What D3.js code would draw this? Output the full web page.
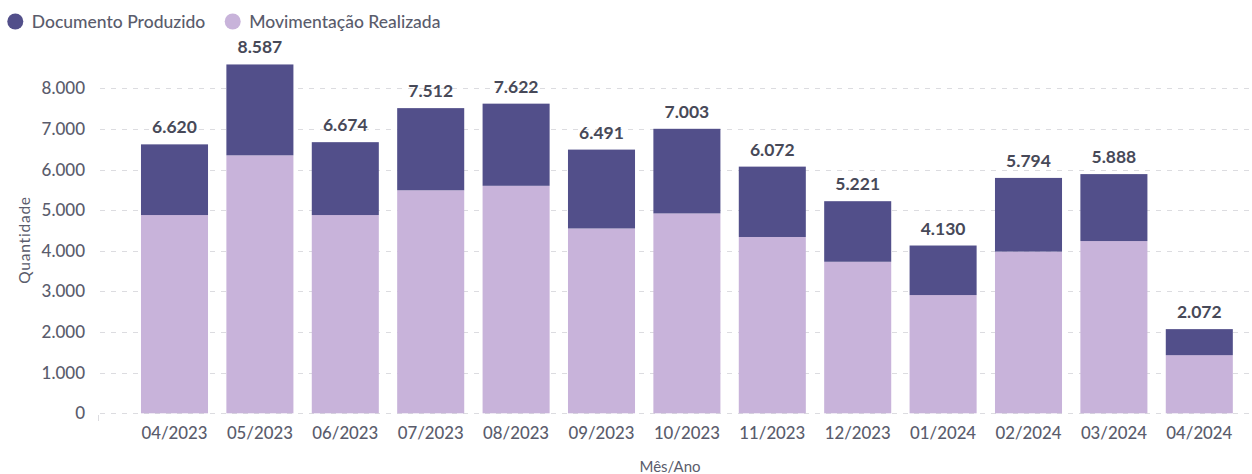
<!DOCTYPE html>
<html>
<head>
<meta charset="utf-8">
<script src="https://cdn.jsdelivr.net/npm/d3@7"></script>
<style>
  body { margin: 0; background: #fff; font-family: Lato, "Open Sans", sans-serif; }
</style>
</head>
<body>
<div id="chart"></div>
<script>
// data
var months = ["04/2023","05/2023","06/2023","07/2023","08/2023","09/2023","10/2023",
              "11/2023","12/2023","01/2024","02/2024","03/2024","04/2024"];
var totals = [6620, 8587, 6674, 7512, 7622, 6491, 7003, 6072, 5221, 4130, 5794, 5888, 2072];
var movimentacao = [4880, 6350, 4880, 5490, 5600, 4550, 4920, 4340, 3730, 2910, 3980, 4240, 1430];
var documento = totals.map(function(t, i) { return t - movimentacao[i]; });
var yTicks = [0, 1000, 2000, 3000, 4000, 5000, 6000, 7000, 8000];
var seriesNames = ["Documento Produzido", "Movimentação Realizada"];
var seriesColors = ["#524f8a", "#c8b3da"];

var W = 1252, H = 474;
var textColor = "#5a5c6c";
var fmt = function(v) { return d3.format(",")(v).replace(/,/g, "."); };

var svg = d3.select("#chart").append("svg")
    .attr("width", W).attr("height", H);

var x = d3.scaleBand()
    .domain(months)
    .range([131.8, 1242])
    .paddingInner(0.215)
    .paddingOuter(0.1075);

var y = d3.scaleLinear()
    .domain([0, 8000])
    .range([413.3, 88.3]);

// gridlines
svg.append("g")
  .selectAll("line")
  .data(yTicks)
  .join("line")
    .attr("x1", 100).attr("x2", 1250)
    .attr("y1", function(d) { return Math.round(y(d)) + 0.5; })
    .attr("y2", function(d) { return Math.round(y(d)) + 0.5; })
    .attr("stroke", "#dcdce0")
    .attr("stroke-dasharray", "5,6");

// small tick at the start of the axis
svg.append("line")
    .attr("x1", 98.5).attr("x2", 98.5)
    .attr("y1", 415).attr("y2", 421)
    .attr("stroke", "#dcdce0");

// y tick labels
svg.append("g")
  .selectAll("text")
  .data(yTicks)
  .join("text")
    .attr("x", 85)
    .attr("y", function(d) { return y(d); })
    .attr("dy", "0.35em")
    .attr("text-anchor", "end")
    .attr("fill", textColor)
    .style("font-size", "17px")
    .style("font-weight", "500")
    .text(function(d) { return fmt(d); });

// stacked bars
var rows = months.map(function(m, i) {
  return { mes: m, mov: movimentacao[i], doc: documento[i] };
});
var stack = d3.stack().keys(["mov", "doc"])(rows);
var colorFor = { mov: seriesColors[1], doc: seriesColors[0] };

svg.append("g")
  .selectAll("g")
  .data(stack)
  .join("g")
    .attr("fill", function(s) { return colorFor[s.key]; })
  .selectAll("rect")
  .data(function(s) { return s; })
  .join("rect")
    .attr("x", function(d) { return x(d.data.mes); })
    .attr("width", x.bandwidth())
    .attr("y", function(d) { return y(d[1]); })
    .attr("height", function(d) { return y(d[0]) - y(d[1]); });

// total labels
svg.append("g")
  .selectAll("text")
  .data(months)
  .join("text")
    .attr("x", function(d) { return x(d) + x.bandwidth() / 2; })
    .attr("y", function(d, i) { return y(totals[i]) - 11; })
    .attr("text-anchor", "middle")
    .attr("fill", "#474958")
    .style("font-size", "17.5px")
    .style("font-weight", "bold")
    .text(function(d, i) { return fmt(totals[i]); });

// x tick labels
svg.append("g")
  .selectAll("text")
  .data(months)
  .join("text")
    .attr("x", function(d) { return x(d) + x.bandwidth() / 2; })
    .attr("y", 433)
    .attr("dy", "0.35em")
    .attr("text-anchor", "middle")
    .attr("fill", textColor)
    .style("font-size", "16.8px")
    .style("font-weight", "500")
    .text(function(d) { return d; });

// axis titles
svg.append("text")
    .attr("x", 670).attr("y", 467)
    .attr("dy", "0.35em")
    .attr("text-anchor", "middle")
    .attr("fill", textColor)
    .style("font-size", "15px")
    .text("Mês/Ano");

svg.append("text")
    .attr("transform", "translate(25,240) rotate(-90)")
    .attr("dy", "0.35em")
    .attr("text-anchor", "middle")
    .attr("fill", textColor)
    .style("font-size", "15.5px")
    .style("letter-spacing", "0.8px")
    .text("Quantidade");

// legend
var legendX = [15.3, 232.7];
var legend = svg.append("g")
  .selectAll("g")
  .data(seriesNames)
  .join("g")
    .attr("transform", function(d, i) { return "translate(" + legendX[i] + ",21.5)"; });
legend.append("circle")
    .attr("r", 8)
    .attr("fill", function(d, i) { return seriesColors[i]; });
legend.append("text")
    .attr("x", 16.5)
    .attr("dy", "0.35em")
    .attr("fill", textColor)
    .style("font-size", "17.5px")
    .style("font-weight", "500")
    .text(function(d) { return d; });
</script>
</body>
</html>
